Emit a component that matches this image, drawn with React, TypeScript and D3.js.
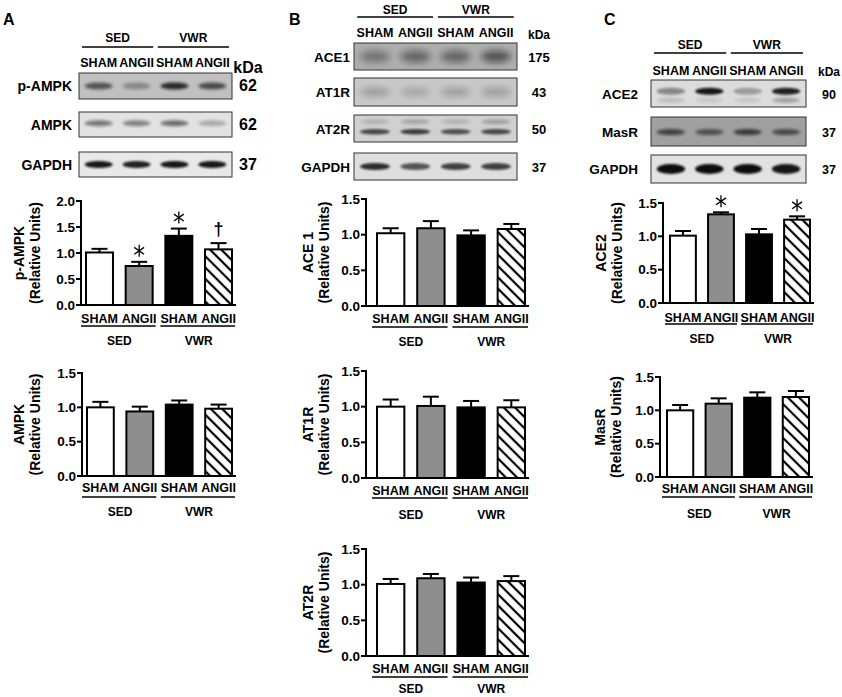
import React from 'react';
import * as d3 from 'd3';

const font = '"Liberation Sans", Arial, Helvetica, sans-serif';

const groups = ['SED', 'VWR'];
const lanes = ['SHAM', 'ANGII', 'SHAM', 'ANGII'];
const conds = ['SED-SHAM', 'SED-ANGII', 'VWR-SHAM', 'VWR-ANGII'];
const fills = ['#ffffff', '#8e8e8e', '#000000', 'url(#hatch)'];

// panel A values (mean, SEM)
const pAmpkMean = [1.01, 0.75, 1.33, 1.07];
const pAmpkErr = [0.07, 0.08, 0.14, 0.12];
const ampkMean = [1.0, 0.94, 1.04, 0.98];
const ampkErr = [0.08, 0.07, 0.06, 0.06];
// panel B
const ace1Mean = [1.02, 1.09, 0.99, 1.08];
const ace1Err = [0.07, 0.1, 0.07, 0.07];
const at1rMean = [1.0, 1.01, 0.99, 0.99];
const at1rErr = [0.1, 0.13, 0.09, 0.1];
const at2rMean = [1.01, 1.09, 1.03, 1.05];
const at2rErr = [0.07, 0.06, 0.07, 0.07];
// panel C
const ace2Mean = [1.01, 1.33, 1.03, 1.25];
const ace2Err = [0.07, 0.03, 0.08, 0.05];
const masrMean = [1.0, 1.1, 1.19, 1.2];
const masrErr = [0.08, 0.08, 0.08, 0.09];

const ticks20 = [0, 0.5, 1.0, 1.5, 2.0];
const ticks15 = [0, 0.5, 1.0, 1.5];
const pAmpkMarks = ['', '*', '*', '†'];
const ace2Marks = ['', '*', '', '*'];

// western blot band darkness per lane
const aRowLabels = ['p-AMPK', 'AMPK', 'GAPDH'];
const aRowKda = ['62', '62', '37'];
const aBandLevels = [
  [0.6, 0.3, 0.85, 0.65],
  [0.5, 0.45, 0.55, 0.25],
  [0.95, 0.9, 0.95, 0.95],
];
const bRowLabels = ['ACE1', 'AT1R', 'AT2R', 'GAPDH'];
const bRowKda = ['175', '43', '50', '37'];
const bBandLevels = [
  [0.35, 0.45, 0.45, 0.55],
  [0.25, 0.2, 0.25, 0.25],
  [0.7, 0.75, 0.65, 0.7],
  [0.85, 0.65, 0.75, 0.75],
];
const bUpperBand = [0.15, 0.22, 0.15, 0.25];
const cRowLabels = ['ACE2', 'MasR', 'GAPDH'];
const cRowKda = ['90', '37', '37'];
const cBandLevels = [
  [0.4, 0.95, 0.3, 0.9],
  [0.65, 0.55, 0.7, 0.6],
  [1, 1, 1, 0.95],
];
const cLowerBand = [0.15, 0.1, 0.1, 0.3];

const Star = ({ x, y }) => {
  const r = 6;
  return (
    <g stroke="#000" strokeWidth={1.3}>
      {[90, 35, 145].map(a => {
        const t = (a * Math.PI) / 180;
        return <line key={a} x1={x - r * Math.cos(t)} y1={y - r * Math.sin(t)} x2={x + r * Math.cos(t)} y2={y + r * Math.sin(t)} />;
      })}
    </g>
  );
};

function BarChart({ L, title, mean, err, ticks, marks = null }) {
  const y = d3.scaleLinear().domain([0, d3.max(ticks)]).range([L.yBase, L.yTop]);
  const x = d3.scaleBand().domain(conds).range([L.barL, L.barR]).paddingInner(0.32);
  const bw = x.bandwidth();
  const mid = (L.yTop + L.yBase) / 2;
  const pairs = groups.map((g, i) => {
    const a = x(conds[i * 2]);
    const b = x(conds[i * 2 + 1]) + bw;
    return { g, x1: a - 5, x2: b + 3, cx: (a + b) / 2 };
  });
  return (
    <g fontFamily={font} fontWeight="bold" fill="#000">
      {conds.map((c, i) => {
        const top = y(mean[i]);
        const cap = y(mean[i] + err[i]);
        const cx = x(c) + bw / 2;
        return (
          <g key={c}>
            <line x1={cx} x2={cx} y1={top} y2={cap} stroke="#000" strokeWidth={2} />
            <line x1={cx - 8} x2={cx + 8} y1={cap} y2={cap} stroke="#000" strokeWidth={2} />
            <rect x={x(c)} y={top} width={bw} height={L.yBase - top} fill={fills[i]} stroke="#000" strokeWidth={2} />
            {marks && marks[i] === '*' && <Star x={cx} y={cap - 11} />}
            {marks && marks[i] === '†' && (
              <text x={cx} y={cap - 8} textAnchor="middle" fontSize={18}>†</text>
            )}
          </g>
        );
      })}
      <line x1={L.axisX} x2={L.axisX} y1={L.yTop - 1} y2={L.yBase + 1} stroke="#000" strokeWidth={2} />
      <line x1={L.axisX} x2={L.barR + 4} y1={L.yBase} y2={L.yBase} stroke="#000" strokeWidth={2} />
      {ticks.map(t => (
        <g key={t}>
          <line x1={L.axisX - 5} x2={L.axisX} y1={y(t)} y2={y(t)} stroke="#000" strokeWidth={2} />
          <text x={L.axisX - 6} y={y(t) + 4.8} textAnchor="end" fontSize={13.5}>{t.toFixed(1)}</text>
        </g>
      ))}
      <text transform={`translate(${L.titleX},${mid}) rotate(-90)`} textAnchor="middle" fontSize={14}>{title}</text>
      <text transform={`translate(${L.titleX + 16},${mid}) rotate(-90)`} textAnchor="middle" fontSize={14}>(Relative Units)</text>
      {conds.map((c, i) => (
        <text key={c} x={x(c) + bw / 2} y={L.labelY + 4.5} textAnchor="middle" fontSize={12.5}>{lanes[i]}</text>
      ))}
      {pairs.map(p => (
        <g key={p.g}>
          <line x1={p.x1} x2={p.x2} y1={L.underY} y2={L.underY} stroke="#000" strokeWidth={1.3} />
          <text x={p.cx} y={L.groupY + 4.5} textAnchor="middle" fontSize={12}>{p.g}</text>
        </g>
      ))}
    </g>
  );
}

function Blot({ L, labels, kda, levels, rows, extra = null }) {
  const lane = d3.scaleBand().domain(conds).range([L.x1, L.x2]).paddingInner(0.12).paddingOuter(0.08);
  const bw = lane.bandwidth();
  const pairs = groups.map((g, i) => {
    const a = lane(conds[i * 2]);
    const b = lane(conds[i * 2 + 1]) + bw;
    return { g, a, b, cx: (a + b) / 2 };
  });
  return (
    <g fontFamily={font} fontWeight="bold" fill="#000">
      {pairs.map(p => (
        <g key={p.g}>
          <text x={p.cx} y={L.groupY + 4} textAnchor="middle" fontSize={12}>{p.g}</text>
          <line x1={p.a} x2={p.b} y1={L.lineY} y2={L.lineY} stroke="#000" strokeWidth={1.3} />
        </g>
      ))}
      {conds.map((c, i) => (
        <text key={c} x={lane(c) + bw / 2} y={L.laneY + 4} textAnchor="middle" fontSize={12.5}>{lanes[i]}</text>
      ))}
      <text x={L.kdaX} y={L.headY} textAnchor="middle" fontSize={L.headSize}>kDa</text>
      {rows.map((r, ri) => {
        const h = r.y2 - r.y1;
        const id = `${L.id}-clip${ri}`;
        return (
          <g key={ri}>
            <clipPath id={id}>
              <rect x={L.x1} y={r.y1} width={L.x2 - L.x1} height={h} />
            </clipPath>
            <rect x={L.x1} y={r.y1} width={L.x2 - L.x1} height={h} fill={r.bg} />
            <g clipPath={`url(#${id})`}>
              {conds.map((c, i) => (
                <ellipse key={c} cx={lane(c) + bw / 2} cy={r.y1 + h * r.pos} rx={bw * 0.42} ry={r.thick}
                  fill="#111" opacity={levels[ri][i]} filter={`url(#${r.blur})`} />
              ))}
              {extra && extra.row === ri && conds.map((c, i) => (
                <ellipse key={c} cx={lane(c) + bw / 2} cy={r.y1 + h * extra.pos} rx={bw * 0.4} ry={2.5}
                  fill="#111" opacity={extra.levels[i]} filter="url(#b2)" />
              ))}
            </g>
            <rect x={L.x1} y={r.y1} width={L.x2 - L.x1} height={h} fill="none" stroke="#333" strokeWidth={1} />
            <text x={L.labelX} y={r.y1 + h / 2 + 5} textAnchor="end" fontSize={L.labelSize}>{labels[ri]}</text>
            <text x={L.kdaX} y={r.y1 + h / 2 + 5} textAnchor="middle" fontSize={L.kdaSize}>{kda[ri]}</text>
          </g>
        );
      })}
    </g>
  );
}

const blotA = { id: 'a', x1: 79, x2: 232, groupY: 38, lineY: 47, laneY: 63, labelX: 72, kdaX: 248, headY: 73, headSize: 16, labelSize: 14, kdaSize: 16 };
const rowsA = [
  { y1: 73, y2: 99, bg: '#c0c0c0', thick: 3.5, pos: 0.5, blur: 'b2' },
  { y1: 112, y2: 137, bg: '#e2e2e2', thick: 3, pos: 0.45, blur: 'b2' },
  { y1: 152, y2: 177, bg: '#e8e8e8', thick: 3.5, pos: 0.5, blur: 'b1' },
];
const blotB = { id: 'b', x1: 354, x2: 517, groupY: 10, lineY: 17, laneY: 33, labelX: 350, kdaX: 539, headY: 39, headSize: 12, labelSize: 13.5, kdaSize: 13 };
const rowsB = [
  { y1: 43, y2: 70, bg: '#adadad', thick: 6, pos: 0.5, blur: 'b3' },
  { y1: 78, y2: 106, bg: '#c8c8c8', thick: 4, pos: 0.5, blur: 'b3' },
  { y1: 115, y2: 142, bg: '#d0d0d0', thick: 2.8, pos: 0.62, blur: 'b1' },
  { y1: 153, y2: 180, bg: '#dedede', thick: 3.5, pos: 0.5, blur: 'b1' },
];
const blotC = { id: 'c', x1: 651, x2: 806, groupY: 45, lineY: 53, laneY: 71, labelX: 638, kdaX: 829, headY: 76, headSize: 12, labelSize: 13.5, kdaSize: 12.5 };
const rowsC = [
  { y1: 80, y2: 107, bg: '#dcdcdc', thick: 3.5, pos: 0.42, blur: 'b1' },
  { y1: 117, y2: 146, bg: '#a0a0a0', thick: 3, pos: 0.52, blur: 'b2' },
  { y1: 155, y2: 183, bg: '#e2e2e2', thick: 5, pos: 0.5, blur: 'b1' },
];

const chartA1 = { axisX: 81, yTop: 201, yBase: 305, barL: 86, barR: 232, titleX: 24, labelY: 318, underY: 326, groupY: 340 };
const chartA2 = { axisX: 82, yTop: 373, yBase: 476, barL: 87, barR: 232, titleX: 24, labelY: 487, underY: 497, groupY: 511 };
const chartB1 = { axisX: 366, yTop: 199, yBase: 306, barL: 377, barR: 525, titleX: 313, labelY: 318, underY: 327, groupY: 341 };
const chartB2 = { axisX: 366, yTop: 371, yBase: 478, barL: 377, barR: 525, titleX: 313, labelY: 490, underY: 498, groupY: 514 };
const chartB3 = { axisX: 366, yTop: 549, yBase: 656, barL: 377, barR: 525, titleX: 313, labelY: 668, underY: 677, groupY: 688 };
const chartC1 = { axisX: 663, yTop: 203, yBase: 303, barL: 670, barR: 810, titleX: 606, labelY: 317, underY: 324, groupY: 338 };
const chartC2 = { axisX: 660, yTop: 377, yBase: 477, barL: 667, barR: 809, titleX: 605, labelY: 488, underY: 497, groupY: 513 };

export default function App() {
  return (
    <svg width={842} height={697} style={{ position: 'absolute', left: 0, top: 0, background: '#fff' }}>
      <defs>
        <pattern id="hatch" patternUnits="userSpaceOnUse" width={8} height={8} patternTransform="rotate(-45)">
          <rect width={8} height={8} fill="#fff" />
          <line x1={4} x2={4} y1={0} y2={8} stroke="#000" strokeWidth={2.2} />
        </pattern>
        <filter id="b1" x="-50%" y="-100%" width="200%" height="300%"><feGaussianBlur stdDeviation={1.1} /></filter>
        <filter id="b2" x="-50%" y="-100%" width="200%" height="300%"><feGaussianBlur stdDeviation={1.8} /></filter>
        <filter id="b3" x="-50%" y="-100%" width="200%" height="300%"><feGaussianBlur stdDeviation={3} /></filter>
      </defs>
      <g fontFamily={font} fontWeight="bold" fontSize={16}>
        <text x={3} y={25}>A</text>
        <text x={289} y={25}>B</text>
        <text x={604} y={25}>C</text>
      </g>
      <Blot L={blotA} labels={aRowLabels} kda={aRowKda} levels={aBandLevels} rows={rowsA} />
      <Blot L={blotB} labels={bRowLabels} kda={bRowKda} levels={bBandLevels} rows={rowsB} extra={{ row: 2, pos: 0.25, levels: bUpperBand }} />
      <Blot L={blotC} labels={cRowLabels} kda={cRowKda} levels={cBandLevels} rows={rowsC} extra={{ row: 0, pos: 0.75, levels: cLowerBand }} />
      <BarChart L={chartA1} title="p-AMPK" mean={pAmpkMean} err={pAmpkErr} ticks={ticks20} marks={pAmpkMarks} />
      <BarChart L={chartA2} title="AMPK" mean={ampkMean} err={ampkErr} ticks={ticks15} />
      <BarChart L={chartB1} title="ACE 1" mean={ace1Mean} err={ace1Err} ticks={ticks15} />
      <BarChart L={chartB2} title="AT1R" mean={at1rMean} err={at1rErr} ticks={ticks15} />
      <BarChart L={chartB3} title="AT2R" mean={at2rMean} err={at2rErr} ticks={ticks15} />
      <BarChart L={chartC1} title="ACE2" mean={ace2Mean} err={ace2Err} ticks={ticks15} marks={ace2Marks} />
      <BarChart L={chartC2} title="MasR" mean={masrMean} err={masrErr} ticks={ticks15} />
    </svg>
  );
}
